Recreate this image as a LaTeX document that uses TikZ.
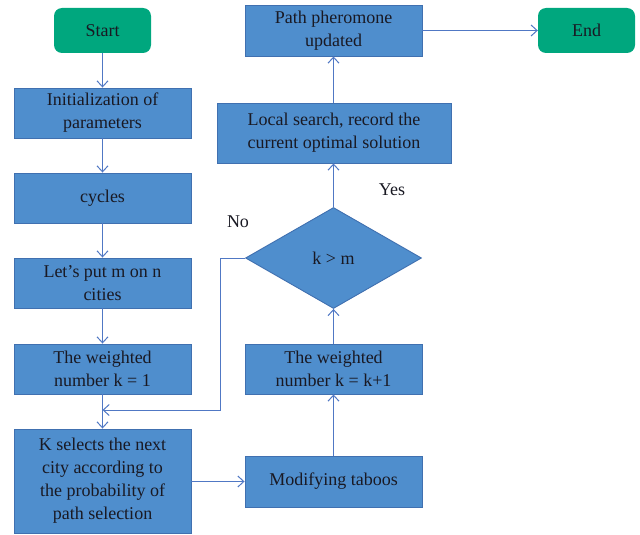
\documentclass[tikz,border=0pt]{standalone}
\usepackage{fontspec}
\setmainfont{Liberation Serif}
\usetikzlibrary{shapes.geometric,arrows.meta}
\definecolor{boxfill}{RGB}{79,142,205}
\definecolor{boxline}{RGB}{64,112,176}
\definecolor{termfill}{RGB}{0,167,126}
\definecolor{arrowc}{RGB}{80,120,196}
\definecolor{txt}{RGB}{25,25,35}
\begin{document}
\begin{tikzpicture}[x=1pt,y=-1pt,
  every node/.style={font=\fontsize{18}{23}\selectfont, text=txt},
  procbox/.style={draw=boxline, fill=boxfill, line width=0.9pt, align=center, inner sep=0pt, minimum width=177pt, minimum height=50pt},
  termbox/.style={fill=termfill, rounded corners=8pt, align=center, inner sep=0pt, minimum width=97pt, minimum height=45pt},
  decbox/.style={diamond, draw=boxline, fill=boxfill, line width=0.9pt, inner sep=0pt, minimum width=176pt, minimum height=101pt},
  flow/.style={draw=arrowc, line width=1pt, -{Straight Barb[length=6pt,width=11pt]}},
  lbl/.style={font=\fontsize{18}{22}\selectfont}
]
\useasboundingbox (0,0) rectangle (640,535);
\node[termbox] (start) at (102.5,30.5) {Start};
\node[procbox] (init) at (102.5,113) {Initialization of\\parameters};
\node[procbox] (cyc) at (102.5,198) {cycles};
\node[procbox] (lets) at (102.5,283) {Let’s put m on n\\cities};
\node[procbox] (wk1) at (102.5,369) {The weighted\\number k = 1};
\node[procbox, minimum height=104pt] (ksel) at (102.5,481) {K selects the next\\city according to\\the probability of\\path selection};
\node[procbox, minimum height=51pt] (taboo) at (333.5,481.5) {Modifying taboos};
\node[procbox] (wkk) at (333.5,369) {The weighted\\number k = k+1};
\node[decbox] (dec) at (333.5,258) {k > m};
\node[procbox, minimum width=234pt, minimum height=60pt] (local) at (334,133) {Local search, record the\\current optimal solution};
\node[procbox, minimum height=51pt] (path) at (333.5,30.5) {Path pheromone\\updated};
\node[termbox] (end) at (586.5,30.5) {End};
\node[lbl] (no) at (238,222) {No};
\node[lbl] (yes) at (392,190) {Yes};
\coordinate (junc) at (102.5,410);
\coordinate (corner1) at (220,410);
\coordinate (corner2) at (220,258);

\draw[flow] (start) -- (init);
\draw[flow] (init) -- (cyc);
\draw[flow] (cyc) -- (lets);
\draw[flow] (lets) -- (wk1);
\draw[flow] (wk1) -- (ksel);
\draw[flow] (dec.west) -- (corner2) -- (corner1) -- (junc);
\draw[flow] (ksel.east |- taboo) -- (taboo);
\draw[flow] (taboo) -- (wkk);
\draw[flow] (wkk) -- (dec.south);
\draw[flow] (dec.north) -- (local.south -| dec.north);
\draw[flow] (local.north -| path) -- (path);
\draw[flow] (path) -- (end);
\end{tikzpicture}
\end{document}
